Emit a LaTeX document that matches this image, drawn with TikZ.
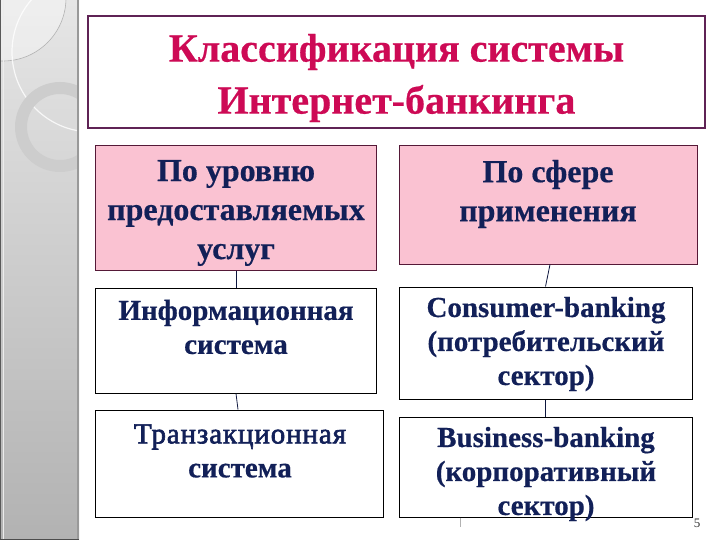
\documentclass[tikz,border=0pt]{standalone}
\usepackage{fontspec}
\setmainfont{Liberation Serif}
\definecolor{titlered}{RGB}{205,10,85}
\definecolor{titleborder}{RGB}{95,35,85}
\definecolor{pinkfill}{RGB}{250,194,210}
\definecolor{pinkborder}{RGB}{85,25,55}
\definecolor{navy}{RGB}{18,32,88}
\definecolor{striptop}{RGB}{230,230,230}
\definecolor{stripbot}{RGB}{178,178,178}
\definecolor{ringgray}{RGB}{205,205,205}
\begin{document}
\begin{tikzpicture}[x=1pt,y=-1pt,
  titlebox/.style={draw=titleborder, line width=1.2pt, fill=white, inner sep=0pt},
  pinkbox/.style={draw=pinkborder, line width=1pt, fill=pinkfill, inner sep=0pt},
  whitebox/.style={draw=black, line width=1pt, fill=white, inner sep=0pt},
  titletext/.style={text=titlered, font=\fontsize{40}{52}\selectfont\bfseries\addfontfeatures{FakeBold=0.5}, align=center, inner sep=0pt},
  headtext/.style={text=navy, font=\fontsize{32}{39}\selectfont\bfseries\addfontfeatures{FakeBold=0.5}, align=center, inner sep=0pt},
  itemtext/.style={text=navy, font=\fontsize{29}{34}\selectfont\bfseries\addfontfeatures{FakeBold=0.5}, align=center, inner sep=0pt},
  conn/.style={draw=navy!70!black, line width=0.8pt}]
\useasboundingbox (0,0) rectangle (720,540);
% left decorative strip
\shade[top color=striptop, bottom color=stripbot] (0,0) rectangle (79,540);
\begin{scope}
  \clip (0,0) rectangle (78,540);
  \fill[white, opacity=0.35] (3,-2) circle (63);
  \draw[gray!60, line width=0.6pt] (3,-2) circle (63);
  \draw[white, line width=1.2pt, opacity=0.8] (92,52) circle (80);
  \fill[ringgray, even odd rule] (60,127) circle (45) (60,127) circle (33);
\end{scope}
\draw[gray!70!black, line width=1pt] (0.5,0) -- (0.5,540);
\draw[white!85!gray, line width=0.8pt] (3,0) -- (3,540);
\draw[gray!80, line width=1.2pt] (78,0) -- (78,540);
\draw[gray!60!black, line width=1pt] (0,539.5) -- (79,539.5);
% title
\node[titlebox, minimum width=617pt, minimum height=112pt] (title) at (396.5,72) {};
\node[titletext] (titlet) at (396.5,78) {Классификация системы\\Интернет-банкинга};
% headers
\node[pinkbox, minimum width=281pt, minimum height=124pt] (p1) at (235.5,208) {};
\node[headtext] (p1t) at (236,213) {По уровню\\предоставляемых\\услуг};
\node[pinkbox, minimum width=298pt, minimum height=118pt] (p2) at (548,205) {};
\node[headtext] (p2t) at (548,194) {По сфере\\применения};
% items
\node[whitebox, minimum width=281pt, minimum height=105pt] (i1) at (235.5,340.5) {};
\node[itemtext] (i1t) at (236,327) {Информационная\\система};
\node[whitebox, minimum width=293pt, minimum height=112pt] (c1) at (545.5,343) {};
\node[itemtext] (c1t) at (546,344) {Consumer-banking\\(потребительский\\сектор)};
\node[whitebox, minimum width=288pt, minimum height=107pt] (t1) at (239,463.5) {};
\node[itemtext] (t1t) at (240,451) {{\mdseries\addfontfeatures{LetterSpace=3,FakeBold=2.2}Транзакционная}\\система};
\node[whitebox, minimum width=293pt, minimum height=100pt] (b1) at (545.5,467) {};
\node[itemtext] (b1t) at (546,474) {Business-banking\\(корпоративный\\сектор)};
% connectors
\draw[conn] ([xshift=0.5pt]p1.south) -- ([xshift=0.5pt]i1.north);
\draw[conn] ([xshift=2pt]p2.south) -- ([xshift=0pt]c1.north);
\draw[conn] ([xshift=0.5pt]i1.south) -- ([xshift=-1pt]t1.north);
\draw[conn] ([xshift=0pt]c1.south) -- ([xshift=0pt]b1.north);
\coordinate (tick) at (460,527);
\draw[gray!60, line width=0.6pt] ([xshift=-85.5pt]b1.south) -- (tick);
% page number
\node[font=\fontsize{13}{15}\selectfont, text=black!80, inner sep=0pt] (pnum) at (697,523) {5};
\end{tikzpicture}
\end{document}
